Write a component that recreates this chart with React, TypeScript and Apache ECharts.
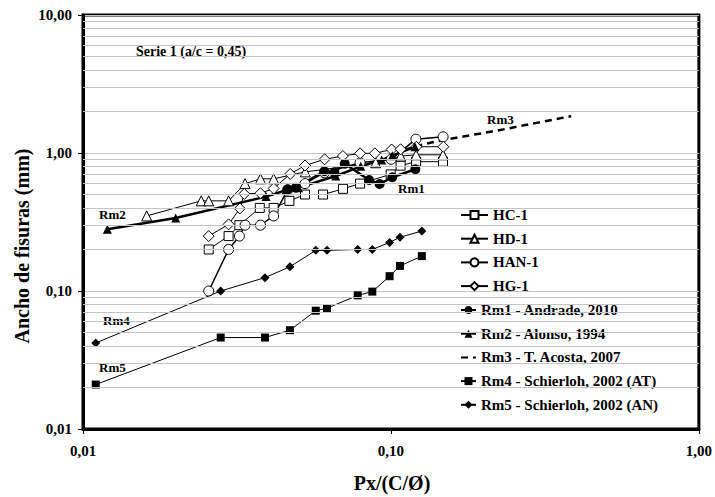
import React, { useEffect, useRef } from "react";
import * as echarts from "echarts";

// ---- data ----
const hc1X = [0.0256, 0.0297, 0.0322, 0.0375, 0.0416, 0.0468, 0.0526, 0.0602, 0.0699, 0.0794, 0.0998, 0.1075, 0.1207, 0.1476];
const hc1Y = [0.20, 0.25, 0.30, 0.40, 0.40, 0.45, 0.50, 0.50, 0.55, 0.60, 0.70, 0.81, 0.865, 0.865];

const hd1X = [0.0161, 0.0242, 0.0256, 0.0297, 0.0336, 0.0377, 0.0416, 0.0527, 0.0892, 0.1075, 0.1207, 0.1476];
const hd1Y = [0.35, 0.45, 0.45, 0.45, 0.60, 0.65, 0.65, 0.73, 0.85, 0.95, 0.97, 0.97];

const han1X = [0.0256, 0.0297, 0.0322, 0.0336, 0.0377, 0.0416, 0.0462, 0.0526, 0.0608, 0.0794, 0.1002, 0.1205, 0.1477];
const han1Y = [0.10, 0.20, 0.25, 0.30, 0.30, 0.35, 0.54, 0.60, 0.72, 0.85, 0.90, 1.26, 1.31];

const hg1X = [0.0256, 0.0297, 0.0323, 0.0334, 0.0377, 0.0416, 0.0471, 0.0526, 0.0609, 0.0698, 0.0794, 0.0887, 0.1005, 0.1075, 0.121, 0.148];
const hg1Y = [0.25, 0.304, 0.396, 0.505, 0.511, 0.553, 0.705, 0.812, 0.90, 0.951, 0.995, 0.995, 1.06, 1.064, 1.11, 1.11];

const rm1X = [0.0462, 0.0491, 0.0608, 0.0655, 0.0708, 0.0849, 0.0919, 0.101, 0.120];
const rm1Y = [0.546, 0.561, 0.737, 0.724, 0.837, 0.637, 0.596, 0.667, 0.763];

const rm2X = [0.012, 0.020, 0.0393, 0.0456, 0.0501, 0.0662, 0.0798, 0.0933, 0.101, 0.1196];
const rm2Y = [0.28, 0.338, 0.483, 0.537, 0.561, 0.681, 0.80, 0.89, 0.956, 1.11];

const rm3X = [0.12, 0.147, 0.22, 0.30, 0.385];
const rm3Y = [1.12, 1.24, 1.45, 1.66, 1.85];

const rm4X = [0.011, 0.028, 0.039, 0.047, 0.057, 0.062, 0.078, 0.087, 0.099, 0.107, 0.126];
const rm4Y = [0.021, 0.046, 0.046, 0.052, 0.072, 0.075, 0.093, 0.099, 0.128, 0.152, 0.179];

const rm5X = [0.011, 0.028, 0.039, 0.047, 0.057, 0.062, 0.078, 0.087, 0.099, 0.107, 0.126];
const rm5Y = [0.042, 0.10, 0.125, 0.15, 0.197, 0.197, 0.20, 0.20, 0.225, 0.245, 0.272];

const testNames = ["HC-1", "HD-1", "HAN-1", "HG-1"];
const modelNames = [
  "Rm1 - Andrade, 2010",
  "Rm2 - Alonso, 1994",
  "Rm3 - T. Acosta, 2007",
  "Rm4 - Schierloh, 2002 (AT)",
  "Rm5 - Schierloh, 2002 (AN)",
];

const minorGridValues = [
  0.02, 0.03, 0.04, 0.05, 0.06, 0.07, 0.08, 0.09,
  0.2, 0.3, 0.4, 0.5, 0.6, 0.7, 0.8, 0.9,
  2, 3, 4, 5, 6, 7, 8, 9,
];

const FONT = "'Liberation Serif', 'Times New Roman', serif";

const zip = (xs: number[], ys: number[]) => xs.map((x, i) => [x, ys[i]]);
const fmt = (v: number) => Number(v).toFixed(2).replace(".", ",");

function mk(
  name: string,
  xs: number[],
  ys: number[],
  symbol: string,
  size: number,
  filled: boolean,
  lw: number,
  dashed = false
) {
  return {
    name,
    type: "line",
    data: zip(xs, ys),
    symbol,
    symbolSize: size,
    showSymbol: symbol !== "none",
    lineStyle: { color: "#000", width: lw, type: dashed ? [7, 5] : "solid" },
    itemStyle: filled
      ? { color: "#000", borderColor: "#000", borderWidth: 0 }
      : { color: "#fff", borderColor: "#000", borderWidth: 1 },
    emphasis: { disabled: true },
    z: 3,
  };
}

const legendText = {
  fontFamily: FONT,
  fontWeight: "bold",
  fontSize: 15,
  lineHeight: 15,
  color: "#000",
};

export default function App() {
  const ref = useRef<HTMLDivElement>(null);
  useEffect(() => {
    if (!ref.current) return;
    const chart = echarts.init(ref.current, undefined, { renderer: "svg" });
    const labelStyle = { fontFamily: FONT, fontWeight: "bold", fontSize: 13, fill: "#000" };
    chart.setOption({
      animation: false,
      backgroundColor: "#fff",
      grid: {
        left: 83,
        right: 14,
        top: 15,
        bottom: 68,
        show: true,
        borderColor: "#000",
        borderWidth: 3,
        backgroundColor: "transparent",
      },
      xAxis: {
        type: "log",
        logBase: 10,
        min: 0.01,
        max: 1,
        axisLine: { lineStyle: { color: "#000", width: 3 } },
        axisTick: { show: true, inside: false, length: 5, lineStyle: { color: "#000", width: 1 } },
        axisLabel: {
          formatter: fmt,
          margin: 14,
          color: "#000",
          fontFamily: FONT,
          fontWeight: "bold",
          fontSize: 15,
        },
        splitLine: { show: false },
      },
      yAxis: {
        type: "log",
        logBase: 10,
        min: 0.01,
        max: 10,
        axisLine: { lineStyle: { color: "#000", width: 3 } },
        axisTick: { show: true, inside: false, length: 5, lineStyle: { color: "#000", width: 1 } },
        axisLabel: {
          formatter: fmt,
          margin: 11,
          color: "#000",
          fontFamily: FONT,
          fontWeight: "bold",
          fontSize: 15,
        },
        splitLine: { show: true, lineStyle: { color: "#c4c4c4", width: 1 } },
      },
      legend: [
        {
          data: testNames,
          orient: "vertical",
          left: 460,
          top: 207.5,
          padding: 0,
          itemWidth: 27,
          itemHeight: 10,
          itemGap: 8.7,
          textStyle: legendText,
          selectedMode: false,
        },
        {
          data: modelNames.map((n) =>
            n.startsWith("Rm3") ? { name: n, itemStyle: { opacity: 0 } } : { name: n }
          ),
          orient: "vertical",
          left: 460,
          top: 302.5,
          padding: 0,
          itemWidth: 15,
          itemHeight: 10,
          itemGap: 8.7,
          textStyle: legendText,
          selectedMode: false,
        },
      ],
      series: [
        {
          name: "grid-minor",
          type: "line",
          data: [],
          silent: true,
          z: 1,
          markLine: {
            silent: true,
            symbol: "none",
            label: { show: false },
            lineStyle: { color: "#c4c4c4", width: 1, type: "solid" },
            emphasis: { disabled: true },
            data: minorGridValues.map((v) => ({ yAxis: v })),
          },
        },
        mk(testNames[0], hc1X, hc1Y, "rect", 9, false, 1),
        mk(testNames[1], hd1X, hd1Y, "triangle", 10, false, 1),
        mk(testNames[2], han1X, han1Y, "circle", 10, false, 1.5),
        mk(testNames[3], hg1X, hg1Y, "diamond", 11, false, 1),
        mk(modelNames[0], rm1X, rm1Y, "circle", 10, true, 2.5),
        mk(modelNames[1], rm2X, rm2Y, "triangle", 9, true, 2.5),
        mk(modelNames[2], rm3X, rm3Y, "none", 0, true, 2.5, true),
        mk(modelNames[3], rm4X, rm4Y, "rect", 8, true, 1),
        mk(modelNames[4], rm5X, rm5Y, "diamond", 9, true, 1),
      ],
      graphic: [
        { type: "text", left: 136, top: 44, style: { ...labelStyle, fontSize: 14, text: "Serie 1 (a/c = 0,45)" } },
        { type: "text", left: 99, top: 208, style: { ...labelStyle, text: "Rm2" } },
        { type: "text", left: 487, top: 113, style: { ...labelStyle, text: "Rm3" } },
        { type: "text", left: 398, top: 182, style: { ...labelStyle, text: "Rm1" } },
        { type: "text", left: 103, top: 314, style: { ...labelStyle, text: "Rm4" } },
        { type: "text", left: 99, top: 361, style: { ...labelStyle, text: "Rm5" } },
        {
          type: "text",
          x: 392,
          y: 483,
          style: {
            text: "Px/(C/Ø)",
            fontFamily: FONT,
            fontWeight: "bold",
            fontSize: 20,
            fill: "#000",
            align: "center",
            verticalAlign: "middle",
          },
        },
        {
          type: "text",
          x: 22,
          y: 246,
          rotation: Math.PI / 2,
          style: {
            text: "Ancho de fisuras (mm)",
            fontFamily: FONT,
            fontWeight: "bold",
            fontSize: 20,
            fill: "#000",
            align: "center",
            verticalAlign: "middle",
          },
        },
      ],
    });
    return () => chart.dispose();
  }, []);
  return (
    <div
      ref={ref}
      style={{ position: "fixed", left: 0, top: 0, width: 715, height: 497, background: "#fff" }}
    />
  );
}
